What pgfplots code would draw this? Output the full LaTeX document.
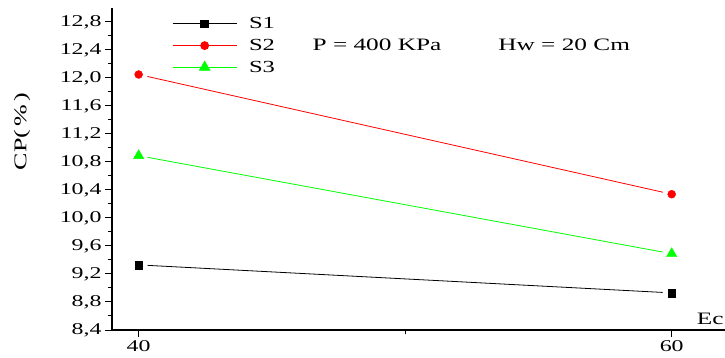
\documentclass[border=0pt]{standalone}
\usepackage{pgfplots}
\pgfplotsset{compat=1.18}
\usepackage{fontspec}
\setmainfont{Liberation Serif}[FakeStretch=1.45]
\definecolor{sgreen}{RGB}{0,255,0}
\definecolor{sred}{RGB}{255,0,0}
\pgfplotstableread{
x y
40 9.33
60 8.93
}\sone
\pgfplotstableread{
x y
40 12.05
60 10.34
}\stwo
\pgfplotstableread{
x y
40 10.89
60 9.49
}\sthree
\begin{document}
\begin{tikzpicture}
\useasboundingbox (-112bp,-28bp) rectangle (613bp,330bp);
\begin{axis}[
  at={(0,0)}, anchor=south west,
  scale only axis, width=613bp, height=322bp,
  xmin=39, xmax=62, ymin=8.4, ymax=13.0,
  clip=false,
  axis x line*=bottom, axis y line*=left,
  axis line style={line width=1.1bp},
  tick align=outside,
  major tick length=7bp, minor tick length=4bp,
  every tick/.style={black, line width=1bp},
  xtick={40,60}, minor xtick={50},
  ytick={8.4,8.8,9.2,9.6,10.0,10.4,10.8,11.2,11.6,12.0,12.4,12.8},
  minor ytick={8.6,9.0,9.4,9.8,10.2,10.6,11.0,11.4,11.8,12.2,12.6},
  /pgf/number format/assume math mode=true,
  ticklabel style={font=\fontsize{16.5}{19}\selectfont},
  yticklabel style={/pgf/number format/.cd, fixed, fixed zerofill, precision=1, use comma},
  legend style={at={(rel axis cs:0.098,0.971)}, anchor=north west, draw=none, fill=none,
    inner sep=0pt, font=\fontsize{17}{20}\selectfont, row sep=9bp,
    nodes={inner sep=0pt}, column sep=12bp},
  legend cell align=left,
  legend image code/.code={\draw[mark repeat=2,mark phase=2,#1] plot coordinates {(0bp,0bp) (32bp,0bp) (64bp,0bp)};},
]
\addplot[black, line width=0.8bp, shorten <=9bp, shorten >=9bp, forget plot] table {\sone};
\addplot[sred, line width=0.8bp, shorten <=9bp, shorten >=9bp, forget plot] table {\stwo};
\addplot[sgreen, line width=0.8bp, shorten <=9bp, shorten >=9bp, forget plot] table {\sthree};
\addplot[only marks, mark=square*, mark size=3.8bp, black, forget plot] table {\sone};
\addplot[only marks, mark=*, mark size=4bp, sred, forget plot] table {\stwo};
\addplot[only marks, mark=triangle*, mark size=6bp, sgreen, forget plot] table {\sthree};
\addlegendimage{black, line width=0.8bp, mark=square*, mark size=3.8bp}
\addlegendentry{S1}
\addlegendimage{sred, line width=0.8bp, mark=*, mark size=4bp}
\addlegendentry{S2}
\addlegendimage{sgreen, line width=0.8bp, mark=triangle*, mark size=6bp}
\addlegendentry{S3}
\node[anchor=west, inner sep=0pt, font=\fontsize{17.5}{20}\selectfont] at (rel axis cs:0.327,0.885) {P = 400 KPa};
\node[anchor=west, inner sep=0pt, font=\fontsize{17.5}{20}\selectfont] at (rel axis cs:0.630,0.885) {Hw = 20 Cm};
\node[font=\fontsize{17.5}{20}\selectfont] at (rel axis cs:0.976,0.036) {Ec};
\node[rotate=90, font=\fontsize{18}{20}\selectfont] at ([xshift=-90bp]rel axis cs:0,0.616) {CP(\,\%\,)};
\end{axis}
\end{tikzpicture}
\end{document}
